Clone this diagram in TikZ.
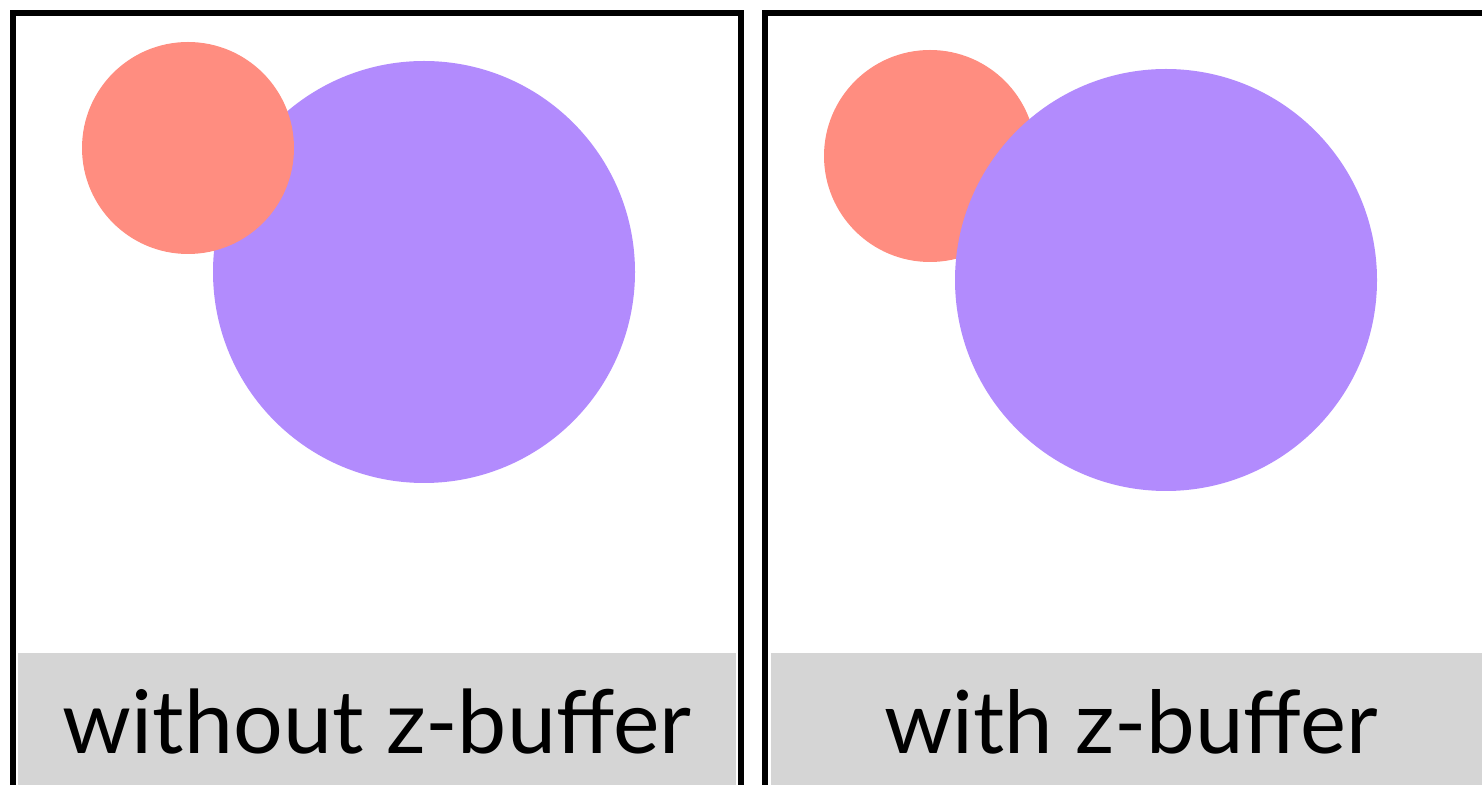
\documentclass[tikz,border=0pt]{standalone}
\usepackage{fontspec}
\setmainfont{Lato}
\definecolor{salmon}{RGB}{255,141,128}
\definecolor{lavender}{RGB}{178,139,253}
\definecolor{band}{RGB}{213,213,213}
\tikzset{
  frame/.style={draw=black, line width=2.6pt},
  bandfill/.style={fill=band, draw=none},
  label/.style={anchor=base, inner sep=0pt, text=black},
}
\begin{document}
\begin{tikzpicture}[x=0.5pt, y=-0.5pt]
\useasboundingbox (0,0) rectangle (1482,785);
\begin{scope}
\clip (0,0) rectangle (1482,785);
% left panel
\fill[lavender] (424,272) circle[radius=211];
\fill[salmon] (188,148) circle[radius=106];
\fill[bandfill] (18,653) rectangle (736,800);
\draw[frame] (13,13) rectangle (741,820);
\node[label] (leftlabel) at (377,753) {\resizebox{314pt}{!}{without z-buffer}};
% right panel
\fill[salmon] (930,156) circle[radius=106];
\fill[lavender] (1166,280) circle[radius=211];
\fill[bandfill] (771,653) rectangle (1500,800);
\draw[frame] (765,13) rectangle (1520,820);
\node[label] (rightlabel) at (1131,753) {\resizebox{246.5pt}{!}{with z-buffer}};
\end{scope}
\end{tikzpicture}
\end{document}
